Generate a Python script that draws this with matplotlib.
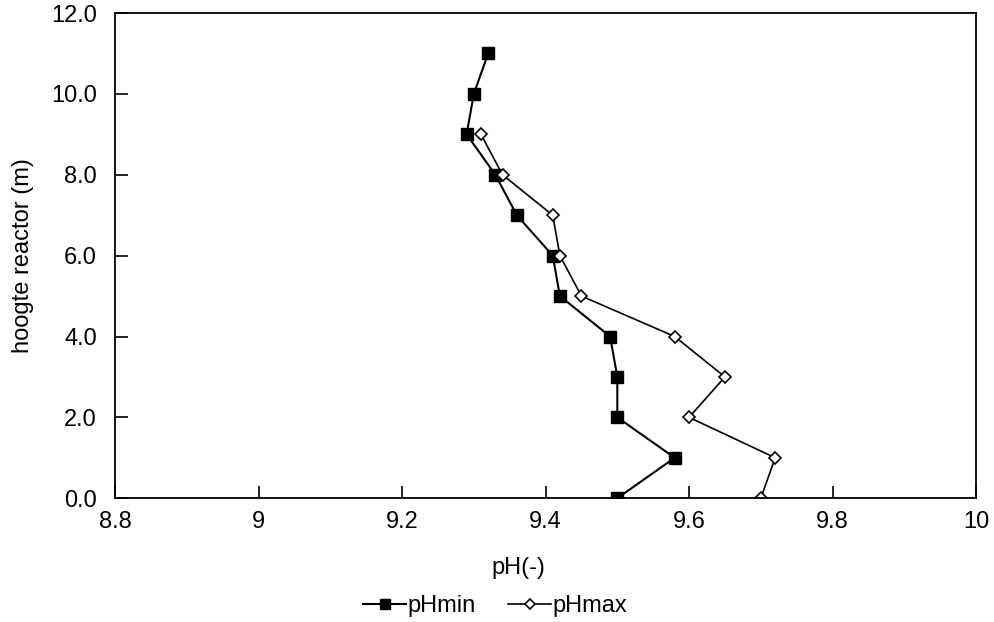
import numpy as np
import matplotlib.pyplot as plt

plt.rcParams['font.family'] = ['Liberation Sans', 'DejaVu Sans']

# reactor height (m) and measured pH range
hoogte = [0, 1, 2, 3, 4, 5, 6, 7, 8, 9, 10, 11]
ph_min = [9.50, 9.58, 9.50, 9.50, 9.49, 9.42, 9.41, 9.36, 9.33, 9.29, 9.30, 9.32]
hoogte_max = [0, 1, 2, 3, 4, 5, 6, 7, 8, 9]
ph_max = [9.70, 9.72, 9.60, 9.65, 9.58, 9.45, 9.42, 9.41, 9.34, 9.31]

xticks = [8.8, 9.0, 9.2, 9.4, 9.6, 9.8, 10.0]
xticklabels = ['8.8', '9', '9.2', '9.4', '9.6', '9.8', '10']
yticks = [0, 2, 4, 6, 8, 10, 12]

fig = plt.figure(figsize=(9.95, 6.22), dpi=100)
ax = fig.add_axes([0.1156, 0.199, 0.8654, 0.780])

ax.plot(ph_min, hoogte, color='black', lw=1.5, marker='s', ms=8.5,
        mfc='black', mec='black', label='pHmin')
ax.plot(ph_max, hoogte_max, color='black', lw=1.2, marker='D', ms=6.5,
        mfc='white', mec='black', mew=1.2, label='pHmax')

ax.set_xlim(8.8, 10.0)
ax.set_ylim(0, 12)
ax.set_xticks(xticks)
ax.set_xticklabels(xticklabels)
ax.set_yticks(yticks)
ax.set_yticklabels([f'{v:.1f}' for v in yticks])
ax.tick_params(direction='in', length=9, width=1.2, labelsize=17)
ax.tick_params(axis='y', pad=13)
ax.tick_params(axis='x', pad=9)
for s in ax.spines.values():
    s.set_linewidth(1.3)

ax.set_xlabel('pH(-)', fontsize=17)
ax.xaxis.set_label_coords(0.469, -0.122)
ax.set_ylabel('hoogte reactor (m)', fontsize=17, labelpad=12)

fig.legend(loc='center', bbox_to_anchor=(0.4975, 0.026), ncol=2, frameon=False,
           fontsize=17, handlelength=1.8, handletextpad=0.05, columnspacing=1.4,
           markerscale=0.8)

fig.savefig('out.png', dpi=100)
